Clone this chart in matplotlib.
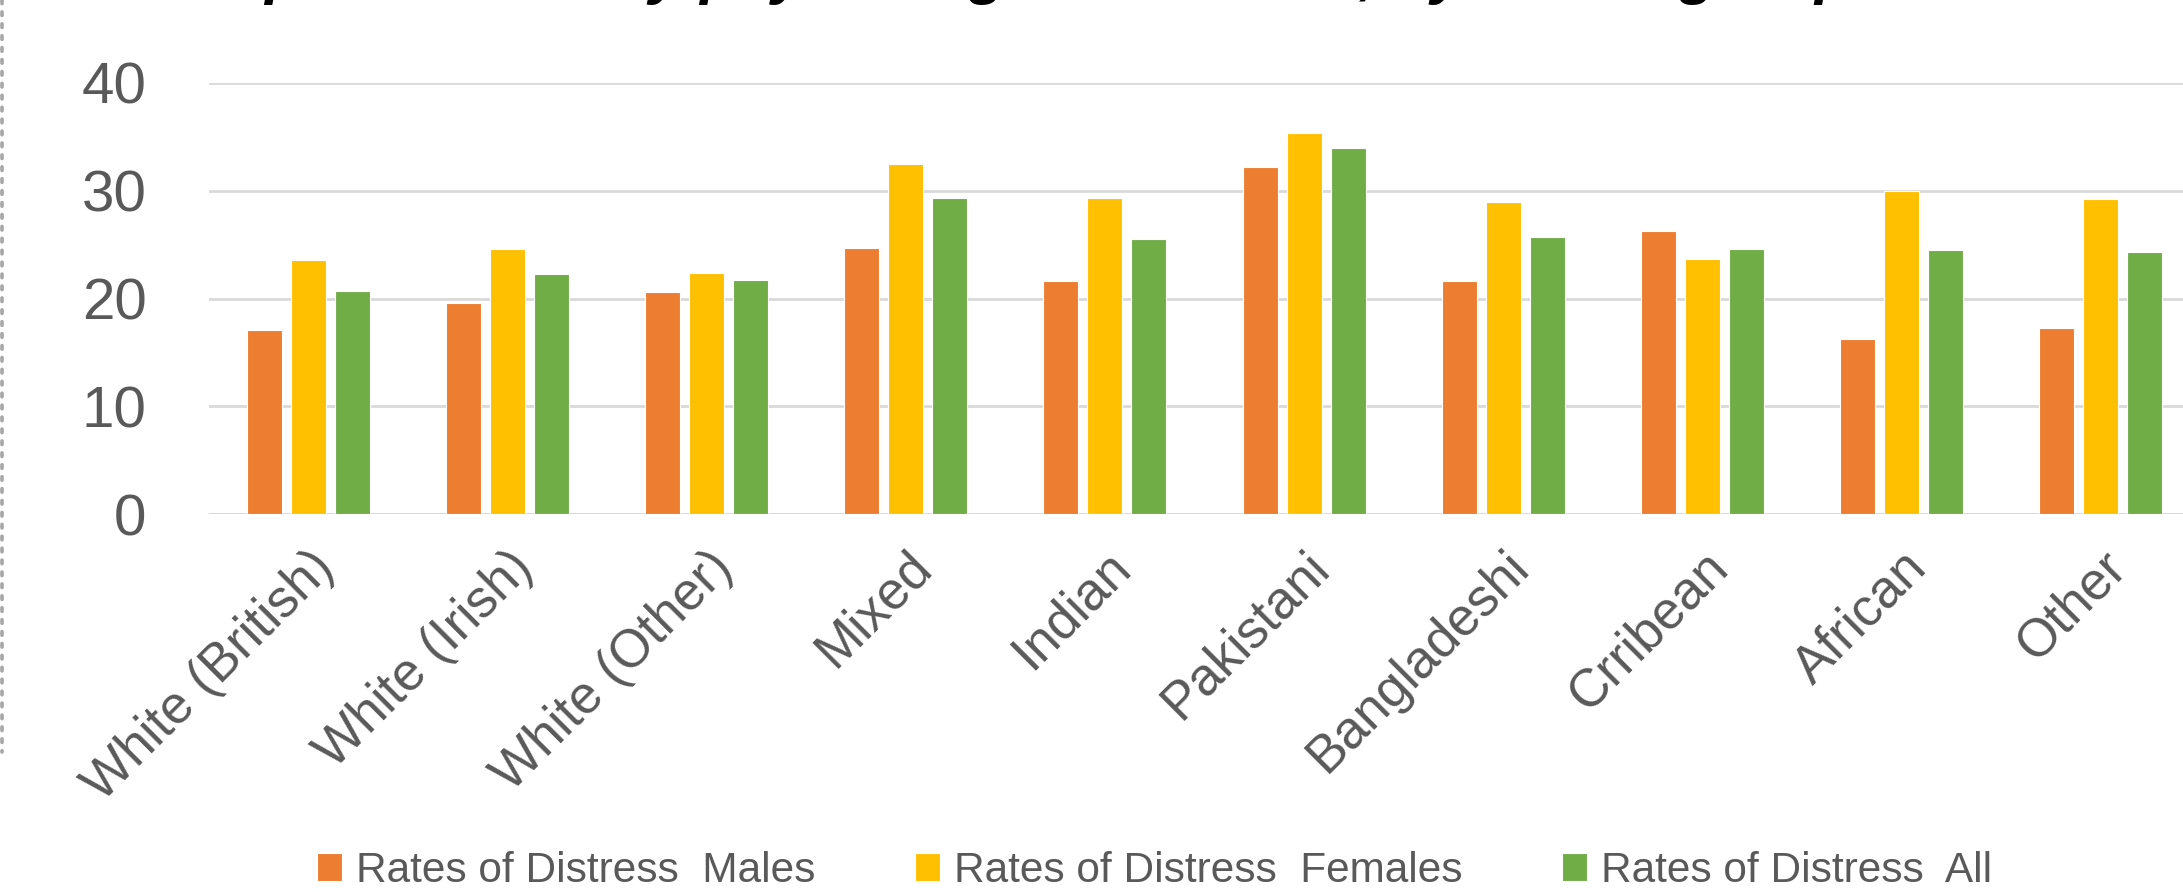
import numpy as np
import matplotlib
matplotlib.use('Agg')
import matplotlib.pyplot as plt
from matplotlib.lines import Line2D

plt.rcParams['font.family'] = ['Liberation Sans', 'DejaVu Sans']

# 各族群心理困扰比例 (%)
groups = ['White (British)', 'White (Irish)', 'White (Other)', 'Mixed', 'Indian',
          'Pakistani', 'Bangladeshi', 'Crribean', 'African', 'Other']
males = [17.1, 19.6, 20.6, 24.7, 21.6, 32.2, 21.6, 26.3, 16.2, 17.3]
females = [23.6, 24.6, 22.4, 32.5, 29.3, 35.4, 29.0, 23.7, 30.0, 29.2]
all_people = [20.7, 22.3, 21.7, 29.3, 25.5, 34.0, 25.7, 24.6, 24.5, 24.3]
series_names = ['Rates of Distress  Males', 'Rates of Distress  Females', 'Rates of Distress  All']
yticks = [0, 10, 20, 30, 40]

colors = ['#ED7D31', '#FFC000', '#70AD47']
grey = '#595959'

W, H = 2183, 892
fig = plt.figure(figsize=(W / 100, H / 100), dpi=100)
# plot area: left 209px, right edge runs slightly past the image, y 0..40 -> 514..83 px
ax = fig.add_axes([209 / W, 1 - 514 / H, (2200 - 209) / W, (514 - 83) / H])

x = np.arange(len(groups))
width = 0.176
step = 0.221
for k, vals in enumerate([males, females, all_people]):
    ax.bar(x + (k - 1) * step, vals, width=width, color=colors[k],
           edgecolor='white', linewidth=0.8, label=series_names[k], zorder=3)

ax.set_xlim(-0.5, len(groups) - 0.5)
ax.set_ylim(0, 40)
ax.set_yticks(yticks)
ax.set_yticklabels([str(v) for v in yticks], fontsize=42, color=grey)
ax.yaxis.grid(True, color='#d9d9d9', linewidth=2.0, zorder=0)
ax.tick_params(axis='y', length=0, pad=45)

ax.set_xticks(x)
ax.set_xticklabels(groups, rotation=45, ha='right', rotation_mode='anchor',
                   fontsize=38, color=grey)
ax.tick_params(axis='x', length=0, pad=20)

for s in ax.spines.values():
    s.set_visible(False)
ax.axhline(0, color='#d9d9d9', linewidth=2.0, zorder=2)

# 标题只露出底部
fig.text(160 / W, 1 + 8 / H, 'Graph 2: Rates by psychological distress, by ethnic group',
         fontsize=44, fontweight='bold', fontstyle='italic', color='black',
         ha='left', va='baseline')

# 左侧虚线边框
fig.add_artist(Line2D([1.5 / W, 1.5 / W], [1.0, 1 - 752 / H], transform=fig.transFigure,
                      color='#a6a6a6', linewidth=2.6, linestyle=(0, (1, 2.3)),
                      dash_capstyle='round'))

leg = fig.legend(loc='center', bbox_to_anchor=(1155 / W, 1 - 871 / H), ncol=3,
                 frameon=False, fontsize=30.5, handlelength=0.57, handleheight=0.62,
                 handletextpad=0.35, columnspacing=2.35)
for t in leg.get_texts():
    t.set_color(grey)

fig.savefig('out.png', dpi=100)
